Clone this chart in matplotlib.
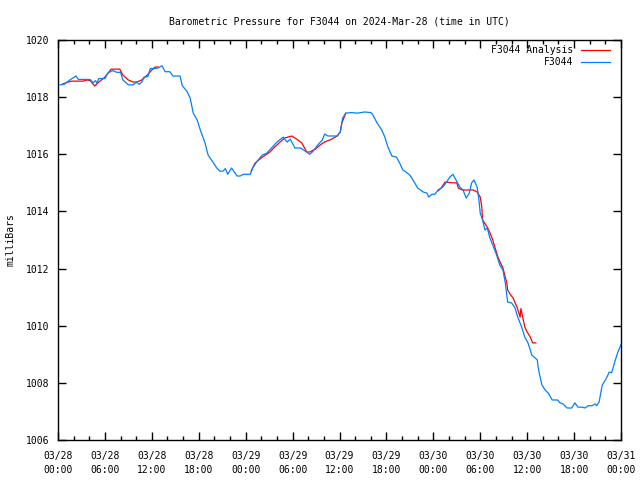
import matplotlib
matplotlib.use("Agg")
import matplotlib.pyplot as plt
import matplotlib.dates as mdates
import numpy as np
import pandas as pd

start = pd.Timestamp("2024-03-28 00:00")

# station readings: hours since start, pressure in mb
obs_hours = np.array([
    0.26, 0.8, 1.5, 2.3, 2.6, 4.1, 4.5, 4.8, 5.0, 5.2, 6.0, 6.4, 7.0, 7.5, 8.0,
    8.3, 9.0, 9.6, 10.0, 10.4, 10.7, 11.0, 11.5, 11.8, 12.4, 12.8, 13.3, 13.7,
    14.3, 14.7, 15.6, 15.9, 16.5, 16.9, 17.3, 17.8, 18.2, 18.8, 19.2, 19.8, 20.3,
    20.7, 21.1, 21.4, 21.7, 22.2, 22.9, 23.3, 23.7, 24.6, 24.9, 25.4, 26.1, 26.7,
    27.4, 28.0, 28.8, 29.3, 29.7, 30.3, 31.0, 31.8, 32.2, 32.6, 33.2, 33.8, 34.1,
    34.5, 35.7, 36.1, 36.4, 36.8, 37.5, 38.3, 39.2, 40.0, 40.2, 40.8, 41.4, 41.8,
    42.2, 42.7, 43.3, 43.7, 44.1, 44.5, 45.0, 45.4, 46.0, 46.7, 47.2, 47.4, 47.8,
    48.2, 48.6, 49.2, 49.7, 50.1, 50.5, 50.9, 51.4, 51.8, 52.2, 52.6, 52.9, 53.2,
    53.6, 53.8, 54.0, 54.3, 54.6, 54.9, 55.2, 55.6, 56.1, 56.5, 56.9, 57.2, 57.4,
    57.5, 58.0, 58.4, 58.8, 59.3, 59.7, 60.1, 60.4, 60.6, 60.9, 61.3, 61.4, 61.6,
    61.9, 62.3, 62.7, 63.2, 63.6, 63.9, 64.2, 64.6, 65.1, 65.7, 66.1, 66.5, 67.0,
    67.4, 67.8, 68.3, 68.7, 68.9, 69.2, 69.6, 70.0, 70.2, 70.5, 70.8, 71.2, 71.6,
    72.0,
])
obs_mb = np.array([
    1018.43, 1018.45, 1018.6, 1018.74, 1018.62, 1018.62, 1018.5, 1018.58, 1018.48,
    1018.65, 1018.65, 1018.85, 1018.93, 1018.87, 1018.87, 1018.6, 1018.43,
    1018.43, 1018.52, 1018.45, 1018.52, 1018.7, 1018.72, 1019.0, 1019.0, 1019.02,
    1019.1, 1018.89, 1018.89, 1018.74, 1018.74, 1018.4, 1018.2, 1017.97, 1017.44,
    1017.2, 1016.85, 1016.4, 1015.97, 1015.73, 1015.52, 1015.41, 1015.41, 1015.5,
    1015.3, 1015.52, 1015.24, 1015.24, 1015.3, 1015.3, 1015.52, 1015.73, 1015.97,
    1016.04, 1016.25, 1016.43, 1016.6, 1016.43, 1016.53, 1016.22, 1016.22,
    1016.08, 1016.0, 1016.1, 1016.32, 1016.5, 1016.71, 1016.64, 1016.64, 1016.78,
    1017.27, 1017.44, 1017.46, 1017.44, 1017.48, 1017.46, 1017.41, 1017.1,
    1016.85, 1016.6, 1016.25, 1015.94, 1015.9, 1015.69, 1015.45, 1015.38,
    1015.27, 1015.1, 1014.82, 1014.68, 1014.64, 1014.5, 1014.6, 1014.6, 1014.75,
    1014.85, 1015.03, 1015.2, 1015.3, 1015.1, 1014.85, 1014.75, 1014.47, 1014.64,
    1015.0, 1015.1, 1014.85, 1014.47, 1013.94, 1013.7, 1013.35, 1013.42, 1013.1,
    1012.82, 1012.47, 1012.12, 1011.95, 1011.5, 1011.07, 1010.83, 1010.8,
    1010.65, 1010.3, 1009.95, 1009.6, 1009.4, 1009.15, 1008.97, 1008.9, 1008.8,
    1008.55, 1008.27, 1007.92, 1007.75, 1007.64, 1007.4, 1007.4, 1007.4, 1007.3,
    1007.26, 1007.12, 1007.12, 1007.3, 1007.15, 1007.15, 1007.12, 1007.2,
    1007.2, 1007.26, 1007.2, 1007.33, 1007.92, 1008.1, 1008.2, 1008.38, 1008.35,
    1008.73, 1009.08, 1009.33,
])

# analysis: three pieces, nan marks the gaps
ana_hours = np.array([
    0.6, 1.3, 1.8, 3.2, 3.7, 4.1, 4.7, 5.1, 6.0, 6.8, 7.9, 8.3, 9.0, 9.6, 10.1,
    10.7, 11.4, 12.0, 12.4, 12.8, 12.9,
    24.7, 25.2, 25.8, 26.5, 27.1, 27.7, 28.4, 29.0, 29.9, 30.7, 31.2, 31.8, 32.2,
    32.9, 33.5, 34.1, 35.0, 35.7, 36.1, 36.3, 36.6, 36.8, 36.9,
    48.6, 49.0, 49.5, 50.4, 51.0, 51.2, 51.7, 52.7, 53.1, 53.6, 54.0, 54.2, 54.3,
    54.9, 55.2, 55.6, 55.9, 56.3, 56.9, 57.2, 57.4, 57.5, 57.9, 58.2, 58.7, 59.1,
    59.2, 59.7, 60.0, 60.4, 60.7, 61.1,
])
ana_mb = np.array([
    1018.46, 1018.53, 1018.56, 1018.56, 1018.6, 1018.58, 1018.39, 1018.5, 1018.7,
    1018.98, 1018.98, 1018.77, 1018.6, 1018.53, 1018.53, 1018.6, 1018.77,
    1018.95, 1019.05, 1019.06, np.nan,
    1015.41, 1015.69, 1015.83, 1015.97, 1016.08, 1016.25, 1016.43, 1016.57,
    1016.64, 1016.5, 1016.39, 1016.08, 1016.08, 1016.18, 1016.32, 1016.43,
    1016.53, 1016.64, 1016.78, 1017.09, 1017.3, 1017.44, np.nan,
    1014.72, 1014.82, 1015.03, 1015.0, 1015.0, 1014.82, 1014.75, 1014.75,
    1014.75, 1014.68, 1014.5, 1014.15, 1013.7, 1013.45, 1013.28, 1013.0,
    1012.72, 1012.37, 1012.02, 1011.7, 1011.5, 1011.25, 1011.07, 1010.97,
    1010.65, 1010.3, 1010.6, 1009.95, 1009.78, 1009.6, 1009.4, 1009.4,
])

obs_t = start + pd.to_timedelta(obs_hours, unit="h")
ana_t = start + pd.to_timedelta(ana_hours, unit="h")

plt.rcParams["font.family"] = "DejaVu Sans Mono"
plt.rcParams["font.size"] = 7

fig = plt.figure(figsize=(6.4, 4.8), dpi=100)
ax = fig.add_axes([58 / 640, 40 / 480, 563 / 640, 400 / 480])

ax.plot(ana_t, ana_mb, color="#ff0000", lw=0.9, label="F3044 Analysis")
ax.plot(obs_t, obs_mb, color="#0080ff", lw=0.9, label="F3044")

ax.set_xlim(start, start + pd.Timedelta(hours=72))
ax.set_ylim(1006, 1020)
ax.set_yticks(np.arange(1006, 1021, 2))
ax.xaxis.set_major_locator(mdates.HourLocator(byhour=range(0, 24, 6)))
ax.xaxis.set_minor_locator(mdates.HourLocator(interval=2))
ax.xaxis.set_major_formatter(mdates.DateFormatter("%m/%d\n%H:%M"))
ax.tick_params(which="both", direction="in", top=True, right=True, width=1)
ax.tick_params(which="major", length=6, pad=6)
ax.tick_params(axis="x", which="major", pad=8)
ax.tick_params(which="minor", length=3)
for s in ax.spines.values():
    s.set_linewidth(1)

ax.set_ylabel("milliBars", labelpad=8)
ax.set_title("Barometric Pressure for F3044 on 2024-Mar-28 (time in UTC)",
             fontsize=7, pad=11)
ax.legend(loc="upper right", frameon=False, markerfirst=False,
          handlelength=3, borderaxespad=0, borderpad=0, labelspacing=0.25,
          bbox_to_anchor=(1 - 11 / 563, 1 - 5 / 400))

fig.canvas.draw()
for lab in ax.get_xticklabels():
    lab.set_linespacing(1.5)

fig.savefig("out.png", dpi=100)
